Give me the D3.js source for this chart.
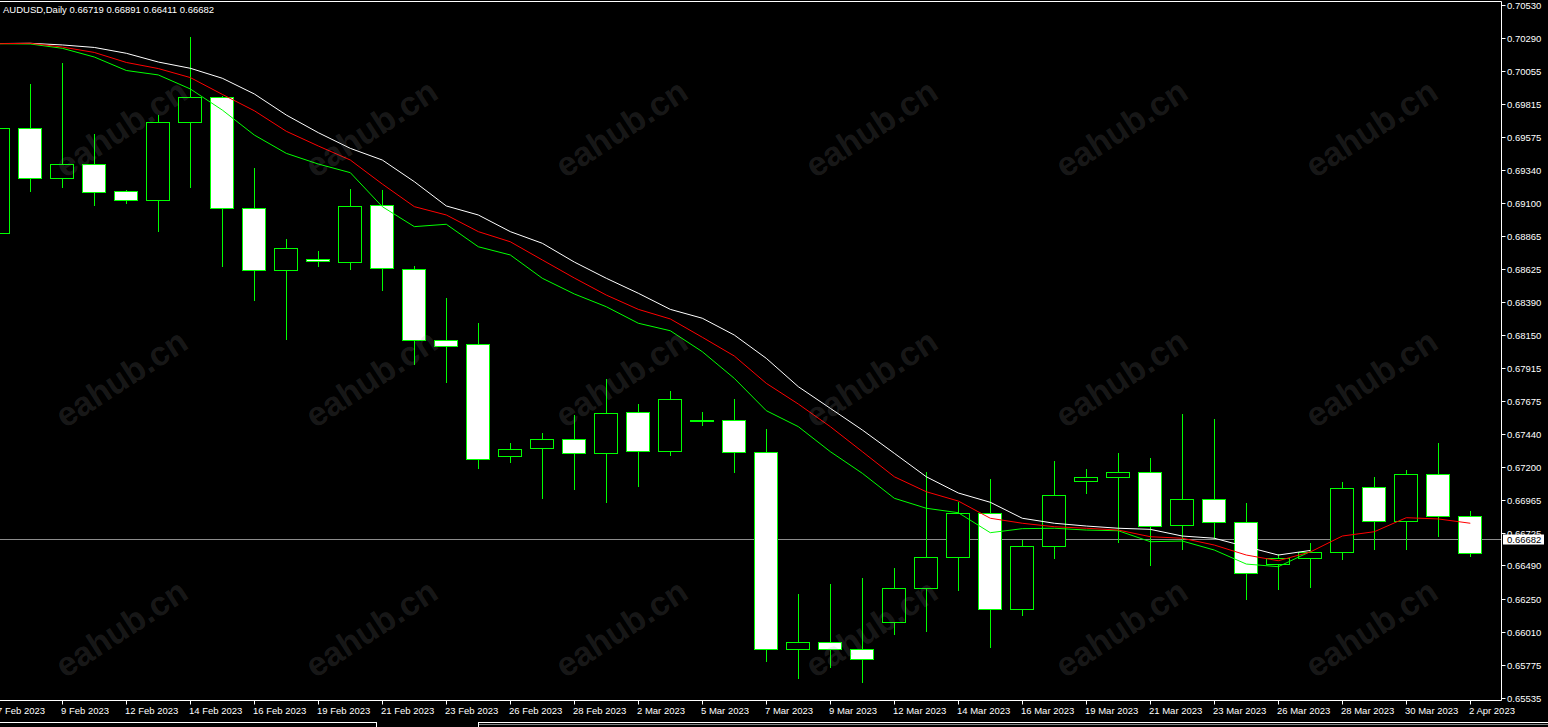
<!DOCTYPE html>
<html>
<head>
<meta charset="utf-8">
<script src="https://cdn.jsdelivr.net/npm/d3@7"></script>
<style>
body { margin: 0; background: #000; overflow: hidden; }
svg { display: block; }
text { font-family: "Liberation Sans", Arial, sans-serif; }
</style>
</head>
<body>
<script>
// daily bars, AUDUSD
var dates = ["2023-02-07","2023-02-08","2023-02-09","2023-02-10","2023-02-12","2023-02-13","2023-02-14","2023-02-15","2023-02-16","2023-02-17",
  "2023-02-19","2023-02-20","2023-02-21","2023-02-22","2023-02-23","2023-02-24","2023-02-26","2023-02-27","2023-02-28","2023-03-01",
  "2023-03-02","2023-03-03","2023-03-05","2023-03-06","2023-03-07","2023-03-08","2023-03-09","2023-03-10","2023-03-12","2023-03-13",
  "2023-03-14","2023-03-15","2023-03-16","2023-03-17","2023-03-19","2023-03-20","2023-03-21","2023-03-22","2023-03-23","2023-03-24",
  "2023-03-26","2023-03-27","2023-03-28","2023-03-29","2023-03-30","2023-03-31","2023-04-02"];

var open = [0.68883,0.69640,0.69279,0.69380,0.69186,0.69121,0.69683,0.69867,0.69063,0.68616,
  0.68696,0.68678,0.69085,0.68624,0.68112,0.68083,0.67276,0.67334,0.67399,0.67298,
  0.67593,0.67312,0.67536,0.67536,0.67305,0.65886,0.65936,0.65886,0.66080,0.66325,
  0.66549,0.66870,0.66174,0.66628,0.67096,0.67125,0.67161,0.66779,0.66967,0.66801,
  0.66498,0.66541,0.66585,0.67053,0.66808,0.67147,0.66844];
var high = [0.69714,0.69959,0.70110,0.69598,0.69195,0.69735,0.70299,0.69872,0.69351,0.68840,
  0.68756,0.69202,0.69195,0.68647,0.68415,0.68235,0.67370,0.67444,0.67574,0.67831,
  0.67653,0.67747,0.67596,0.67689,0.67473,0.66284,0.66356,0.66400,0.66472,0.67163,
  0.66945,0.67113,0.66676,0.67243,0.67185,0.67300,0.67264,0.67581,0.67545,0.66938,
  0.66575,0.66650,0.67089,0.67125,0.67178,0.67372,0.66882];
var low = [0.68835,0.69181,0.69212,0.69082,0.69096,0.68895,0.69212,0.68642,0.68397,0.68112,
  0.68642,0.68621,0.68469,0.67934,0.67804,0.67183,0.67230,0.66971,0.67036,0.66942,
  0.67057,0.67281,0.67497,0.67158,0.65797,0.65674,0.65753,0.65641,0.65987,0.66007,
  0.66308,0.65893,0.66128,0.66539,0.67007,0.66654,0.66488,0.66603,0.66683,0.66243,
  0.66315,0.66330,0.66531,0.66603,0.66603,0.66693,0.66549];
var close = [0.69640,0.69279,0.69380,0.69183,0.69121,0.69683,0.69863,0.69063,0.68616,0.68775,
  0.68681,0.69078,0.68631,0.68112,0.68073,0.67255,0.67327,0.67399,0.67298,0.67586,
  0.67312,0.67687,0.67531,0.67305,0.65886,0.65936,0.65886,0.65814,0.66325,0.66549,
  0.66866,0.66174,0.66628,0.66995,0.67125,0.67161,0.66772,0.66967,0.66801,0.66433,
  0.66541,0.66585,0.67046,0.66808,0.67147,0.66844,0.66578];

// moving averages
var maWhite = [0.70250,0.70252,0.70240,0.70222,0.70180,0.70117,0.70072,0.70000,0.69887,0.69735,
  0.69608,0.69495,0.69411,0.69255,0.69080,0.69015,0.68895,0.68811,0.68676,0.68559,
  0.68451,0.68335,0.68271,0.68150,0.67982,0.67778,0.67622,0.67466,0.67298,0.67129,
  0.67012,0.66945,0.66830,0.66794,0.66774,0.66758,0.66750,0.66702,0.66686,0.66625,
  0.66565,0.66598];
var maRed = [0.70249,0.70252,0.70225,0.70186,0.70114,0.70070,0.70005,0.69884,0.69766,0.69618,
  0.69512,0.69411,0.69238,0.69075,0.69015,0.68895,0.68822,0.68691,0.68561,0.68438,
  0.68335,0.68266,0.68134,0.67999,0.67802,0.67653,0.67490,0.67310,0.67129,0.67021,
  0.66954,0.66830,0.66794,0.66769,0.66758,0.66745,0.66697,0.66686,0.66637,0.66565,
  0.66524,0.66587,0.66702,0.66733,0.66834,0.66825,0.66794];
var maGreen = [0.70249,0.70247,0.70216,0.70153,0.70056,0.70024,0.69923,0.69771,0.69591,0.69459,
  0.69382,0.69320,0.69075,0.68931,0.68948,0.68786,0.68727,0.68559,0.68446,0.68354,
  0.68235,0.68181,0.68030,0.67838,0.67605,0.67490,0.67310,0.67154,0.66974,0.66902,
  0.66870,0.66726,0.66755,0.66758,0.66745,0.66740,0.66661,0.66666,0.66601,0.66500,
  0.66481,0.66590];

var priceTicks = [0.70530,0.70290,0.70055,0.69815,0.69575,0.69340,0.69100,0.68865,0.68625,0.68390,0.68150,
  0.67915,0.67675,0.67440,0.67200,0.66965,0.66725,0.66490,0.66250,0.66010,0.65775,0.65535];

var title = "AUDUSD,Daily  0.66719 0.66891 0.66411 0.66682";
var bid = 0.66682;

var W = 1548, H = 727;
var right = 1501.5, bottom = 700.5;

var svg = d3.select("body").append("svg")
  .attr("width", W)
  .attr("height", H);

svg.append("rect")
  .attr("width", W)
  .attr("height", H)
  .attr("fill", "#000");

var x = d3.scalePoint().domain(dates).range([-1.7, 1470.3]);
var y = d3.scaleLinear().domain([0.65535, 0.70530]).range([698, 4.7]);
var fmt = d3.timeFormat("%-d %b %Y");
var parse = d3.timeParse("%Y-%m-%d");

function crisp(v) { return Math.round(v) + 0.5; }

var bars = dates.map(function(d, i) {
  return { date: d, o: open[i], h: high[i], l: low[i], c: close[i] };
});

// bid line (behind candles)
svg.append("line")
  .attr("x1", 0).attr("x2", right)
  .attr("y1", crisp(y(bid))).attr("y2", crisp(y(bid)))
  .attr("stroke", "#8c8c8c")
  .attr("stroke-width", 1);

// candles
var g = svg.append("g").attr("shape-rendering", "crispEdges");

g.selectAll(".wick")
  .data(bars)
  .enter().append("line")
  .attr("x1", function(d) { return crisp(x(d.date)); })
  .attr("x2", function(d) { return crisp(x(d.date)); })
  .attr("y1", function(d) { return Math.round(y(d.h)); })
  .attr("y2", function(d) { return Math.round(y(d.l)); })
  .attr("stroke", "#00ff00")
  .attr("stroke-width", 1);

g.selectAll(".body")
  .data(bars)
  .enter().append("rect")
  .attr("x", function(d) { return Math.round(x(d.date)) - 11.5; })
  .attr("y", function(d) { return Math.round(y(Math.max(d.o, d.c))) + 0.5; })
  .attr("width", 23)
  .attr("height", function(d) {
    return Math.max(1, Math.round(y(Math.min(d.o, d.c))) - Math.round(y(Math.max(d.o, d.c))));
  })
  .attr("fill", function(d) { return d.c >= d.o ? "#000" : "#fff"; })
  .attr("stroke", "#00ff00")
  .attr("stroke-width", 1);

// moving averages
function maLine(vals, color) {
  var line = d3.line()
    .x(function(d, i) { return x(dates[i]); })
    .y(function(d) { return y(d); });
  svg.append("path")
    .datum(vals)
    .attr("d", line)
    .attr("fill", "none")
    .attr("stroke", color)
    .attr("stroke-width", 1);
}
maLine(maWhite, "#ffffff");
maLine(maGreen, "#00ff00");
maLine(maRed, "#ff0000");

// watermark
var wmX = [121, 371, 621, 871, 1121, 1371], wmY = [128, 378, 628];
wmY.forEach(function(wy) {
  wmX.forEach(function(wx) {
    svg.append("text")
      .attr("transform", "translate(" + wx + "," + wy + ") rotate(-33)")
      .attr("text-anchor", "middle")
      .attr("dominant-baseline", "central")
      .attr("font-size", 34)
      .attr("font-weight", "bold")
      .attr("fill", "#999")
      .attr("fill-opacity", 0.18)
      .text("eahub.cn");
  });
});

// frame
var frame = svg.append("g").attr("stroke", "#fff").attr("stroke-width", 1);
frame.append("line").attr("x1", 0).attr("x2", right).attr("y1", 1.5).attr("y2", 1.5);
frame.append("line").attr("x1", right).attr("x2", right).attr("y1", 1.5).attr("y2", bottom);
frame.append("line").attr("x1", 0).attr("x2", right).attr("y1", bottom).attr("y2", bottom);

// price axis
var pa = svg.append("g");
priceTicks.forEach(function(v) {
  var py = crisp(y(v));
  pa.append("line")
    .attr("x1", right).attr("x2", right + 4)
    .attr("y1", py).attr("y2", py)
    .attr("stroke", "#fff");
  pa.append("text")
    .attr("x", 1507)
    .attr("y", py + 3.5)
    .attr("fill", "#fff")
    .attr("font-size", 9.5)
    .text(v.toFixed(5));
});

// bid label
var by = crisp(y(bid));
svg.append("rect")
  .attr("x", 1503).attr("y", by - 5)
  .attr("width", 41).attr("height", 10)
  .attr("fill", "#fff");
svg.append("text")
  .attr("x", 1507)
  .attr("y", by + 3.5)
  .attr("fill", "#000")
  .attr("font-size", 9.5)
  .text(bid.toFixed(5));

// time axis
var ta = svg.append("g");
dates.forEach(function(d, i) {
  if (i % 2) return;
  var tx = crisp(x(d));
  ta.append("line")
    .attr("x1", tx).attr("x2", tx)
    .attr("y1", bottom).attr("y2", bottom + 4)
    .attr("stroke", "#fff");
  ta.append("text")
    .attr("x", tx - 1.5)
    .attr("y", 714)
    .attr("fill", "#fff")
    .attr("font-size", 9.5)
    .text(fmt(parse(d)));
});

// title
svg.append("text")
  .attr("x", 3)
  .attr("y", 13)
  .attr("fill", "#fff")
  .attr("font-size", 9.5)
  .text(title);

// tab strip at the bottom
var tabs = svg.append("g").attr("stroke", "#fff").attr("stroke-width", 1).attr("shape-rendering", "crispEdges");
tabs.append("line").attr("x1", 0).attr("x2", 376).attr("y1", 722.5).attr("y2", 722.5);
tabs.append("line").attr("x1", 376.5).attr("x2", 376.5).attr("y1", 722).attr("y2", 727);
tabs.append("line").attr("x1", 479).attr("x2", W).attr("y1", 722.5).attr("y2", 722.5);
tabs.append("line").attr("x1", 478.5).attr("x2", 478.5).attr("y1", 722).attr("y2", 727);
tabs.append("line").attr("x1", 479).attr("x2", W).attr("y1", 724.5).attr("y2", 724.5).attr("stroke", "#808080");
</script>
</body>
</html>
